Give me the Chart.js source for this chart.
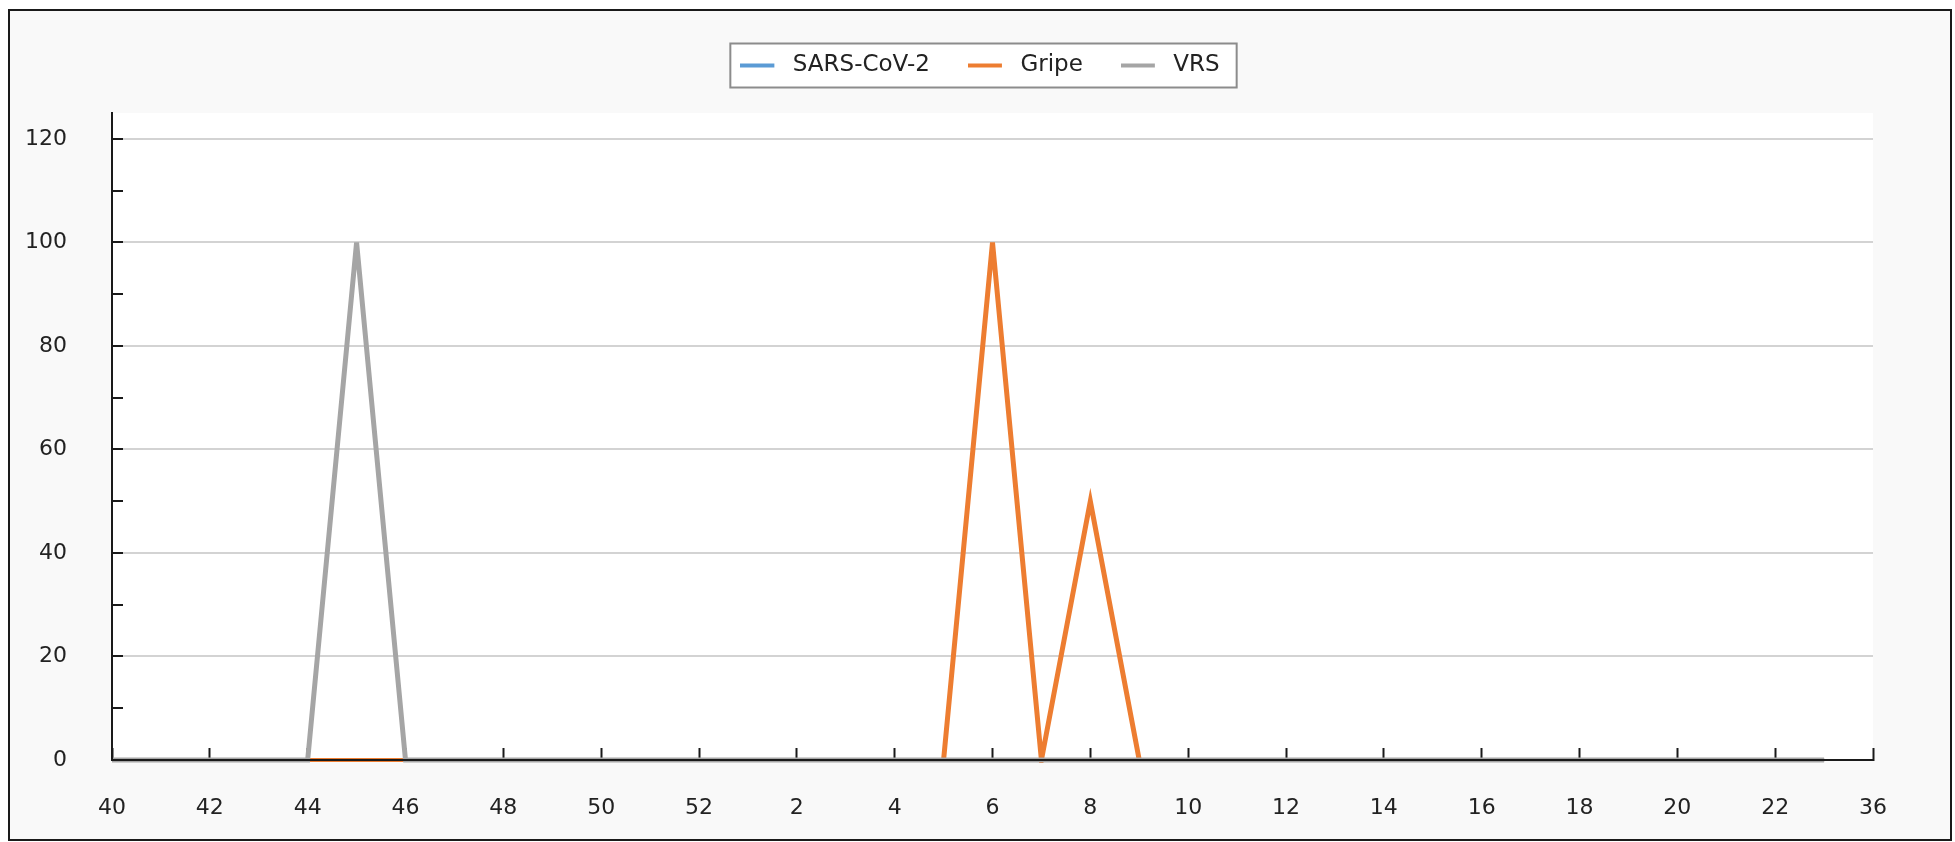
<!DOCTYPE html>
<html>
<head>
<meta charset="utf-8">
<script src="https://cdn.jsdelivr.net/npm/chart.js@4.4.1/dist/chart.umd.min.js"></script>
<style>
  html, body { margin: 0; padding: 0; background: #ffffff; }
  #frame {
    position: absolute; left: 8px; top: 9px;
    width: 1940px; height: 828px;
    border: 2px solid #1a1a1a;
    background: #f9f9f9;
  }
  #chart { display: block; }
</style>
</head>
<body>
<div id="frame"><canvas id="chart" width="1940" height="828"></canvas></div>
<script>
// Semanas epidemiológicas (eje X)
const weeks = ['40', '41', '42', '43', '44', '45', '46', '47', '48', '49', '50', '51', '52',
  '1', '2', '3', '4', '5', '6', '7', '8', '9', '10', '11', '12', '13', '14', '15', '16',
  '17', '18', '19', '20', '21', '22', '23', '36'];

// Series (%)
const sarsCov2 = [0, 0, 0, 0, 0, 0, 0, 0, 0, 0, 0, 0, 0,
  0, 0, 0, 0, 0, 0, 0, 0, 0, 0, 0, 0, 0, 0, 0, 0,
  0, 0, 0, 0, 0, 0, 0, null];
const gripe = [0, 0, 0, 0, 0, 0, 0, 0, 0, 0, 0, 0, 0,
  0, 0, 0, 0, 0, 100, 0, 50, 0, 0, 0, 0, 0, 0, 0, 0,
  0, 0, 0, 0, 0, 0, 0, null];
const vrs = [0, 0, 0, 0, 0, 100, 0, 0, 0, 0, 0, 0, 0,
  0, 0, 0, 0, 0, 0, 0, 0, 0, 0, 0, 0, 0, 0, 0, 0,
  0, 0, 0, 0, 0, 0, 0, null];

// Eje Y
const yMin = 0;
const yMax = 125;
const yStep = 10;

const colors = { sars: '#5b9bd5', gripe: '#ed7d31', vrs: '#a5a5a5' };

// muestra de línea para la leyenda (línea corta + hueco antes del texto)
function legendLine(color) {
  const c = document.createElement('canvas');
  c.width = 41;
  c.height = 6;
  const g = c.getContext('2d');
  g.fillStyle = color;
  g.fillRect(0, 1, 34, 4);
  return c;
}

// tramos planos en 0 algo más finos para que queden tapados por la serie de arriba
const flatThin = {
  borderWidth: (ctx) => (ctx.p0.parsed.y === 0 && ctx.p1.parsed.y === 0 ? 4 : 5),
};

// fondo blanco del área de trazado y recuadro de la leyenda
const backgrounds = {
  id: 'backgrounds',
  beforeDraw(chart) {
    const { ctx, chartArea } = chart;
    ctx.save();
    ctx.fillStyle = '#ffffff';
    ctx.fillRect(chartArea.left, chartArea.top, chartArea.right - chartArea.left, chartArea.bottom - chartArea.top);
    const boxes = chart.legend && chart.legend.legendHitBoxes;
    if (boxes && boxes.length) {
      const first = boxes[0];
      const last = boxes[boxes.length - 1];
      const x0 = first.left - 10;
      const x1 = last.left + last.width + 17;
      const yc = first.top + first.height / 2;
      ctx.fillStyle = '#ffffff';
      ctx.fillRect(x0, yc - 22, x1 - x0, 44);
      ctx.strokeStyle = '#8c8c8c';
      ctx.lineWidth = 2;
      ctx.strokeRect(x0, yc - 22, x1 - x0, 44);
    }
    ctx.restore();
  }
};

const tickFont = { family: 'DejaVu Sans', size: 22 };
const legendFont = { family: 'DejaVu Sans', size: 23 };

new Chart(document.getElementById('chart'), {
  type: 'line',
  data: {
    labels: weeks,
    datasets: [
      {
        label: 'SARS-CoV-2',
        data: sarsCov2,
        borderColor: colors.sars,
        backgroundColor: colors.sars,
        pointStyle: legendLine(colors.sars),
        segment: flatThin,
        order: 2,
      },
      {
        label: 'Gripe',
        data: gripe,
        borderColor: colors.gripe,
        backgroundColor: colors.gripe,
        pointStyle: legendLine(colors.gripe),
        segment: flatThin,
        order: 1,
      },
      {
        label: 'VRS',
        data: vrs,
        borderColor: colors.vrs,
        backgroundColor: colors.vrs,
        pointStyle: legendLine(colors.vrs),
        order: 0,
      },
    ],
  },
  options: {
    responsive: false,
    animation: false,
    devicePixelRatio: 1,
    layout: { padding: { top: 5, left: 16, right: 16, bottom: 0 } },
    datasets: { line: { clip: 3 } },
    elements: {
      line: { borderWidth: 5, tension: 0, fill: false },
      point: { radius: 0, hoverRadius: 0 },
    },
    plugins: {
      legend: {
        position: 'top',
        labels: {
          usePointStyle: true,
          pointStyleWidth: 41,
          padding: 38,
          color: '#222222',
          font: legendFont,
          sort: (a, b) => a.datasetIndex - b.datasetIndex,
        },
      },
      // espacio vacío entre la leyenda y el área de trazado
      title: {
        display: true,
        text: '',
        weight: 500,
        font: { size: 10 },
        padding: { top: 7, bottom: 7 },
      },
      tooltip: { enabled: false },
    },
    scales: {
      x: {
        offset: false,
        afterFit: (scale) => { scale.height = 79; },
        grid: {
          drawOnChartArea: false,
          tickLength: -12,
          tickWidth: 2,
          tickColor: (ctx) => (ctx.index % 2 === 0 ? '#1a1a1a' : 'rgba(0,0,0,0)'),
        },
        border: { color: '#1a1a1a', width: 2, z: 1 },
        ticks: {
          autoSkip: false,
          maxRotation: 0,
          padding: 47,
          color: '#222222',
          font: tickFont,
          callback: function (value, index) {
            return index % 2 === 0 ? this.getLabelForValue(value) : '';
          },
        },
      },
      y: {
        min: yMin,
        max: yMax,
        afterFit: (scale) => { scale.width = 86; },
        grid: {
          color: (ctx) => (ctx.tick && ctx.tick.value % 20 === 0 ? '#d3d3d3' : 'rgba(0,0,0,0)'),
          lineWidth: 2,
          tickLength: -11,
          tickWidth: 2,
          tickColor: '#1a1a1a',
        },
        border: { color: '#1a1a1a', width: 2, z: 1 },
        ticks: {
          stepSize: yStep,
          includeBounds: false,
          padding: 56,
          color: '#222222',
          font: tickFont,
          callback: (v) => (v % 20 === 0 ? String(v) : ''),
        },
      },
      // margen derecho vacío (equilibra el centrado de la leyenda)
      yRight: {
        position: 'right',
        display: true,
        afterFit: (scale) => { scale.width = 61; },
        grid: { display: false },
        border: { display: false },
        ticks: { display: false },
      },
    },
  },
  plugins: [backgrounds],
});
</script>
</body>
</html>
